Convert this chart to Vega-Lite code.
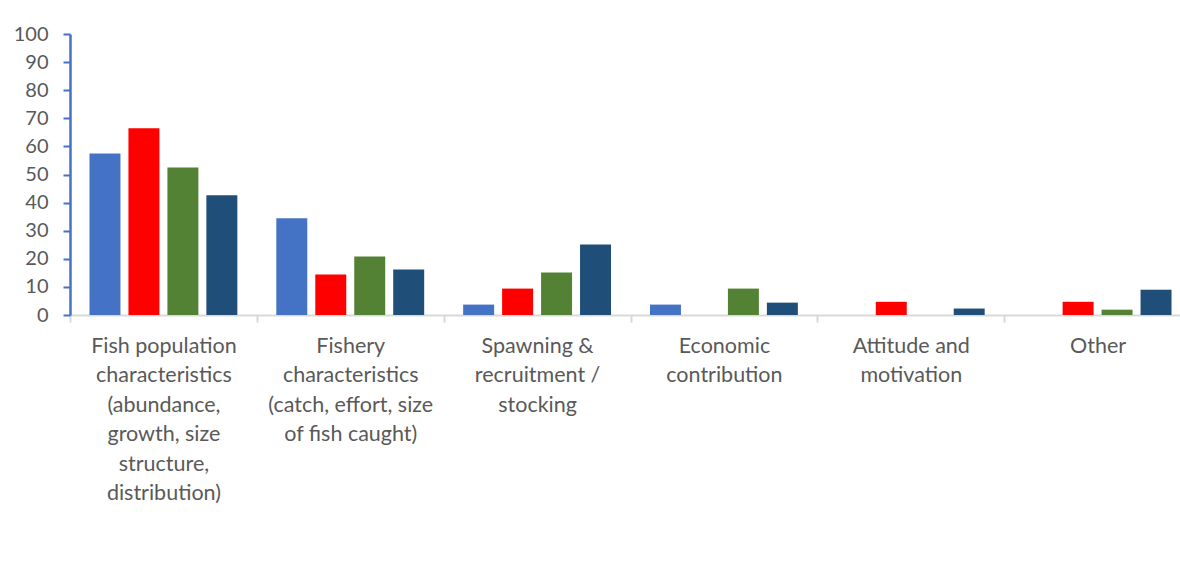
{
  "$schema": "https://vega.github.io/schema/vega-lite/v6.json",
  "autosize": {"type": "none"},
  "padding": {"left": 70, "top": 34, "right": 0, "bottom": 266},
  "width": 1110,
  "height": 281,
  "background": "white",
  "data": {
    "values": [
      {"cat": "Fish population|characteristics|(abundance,|growth, size|structure,|distribution)", "series": "S1", "value": 57.5},
      {"cat": "Fish population|characteristics|(abundance,|growth, size|structure,|distribution)", "series": "S2", "value": 66.5},
      {"cat": "Fish population|characteristics|(abundance,|growth, size|structure,|distribution)", "series": "S3", "value": 52.5},
      {"cat": "Fish population|characteristics|(abundance,|growth, size|structure,|distribution)", "series": "S4", "value": 42.6},
      {"cat": "Fishery|characteristics|(catch, effort, size|of fish caught)", "series": "S1", "value": 34.4},
      {"cat": "Fishery|characteristics|(catch, effort, size|of fish caught)", "series": "S2", "value": 14.4},
      {"cat": "Fishery|characteristics|(catch, effort, size|of fish caught)", "series": "S3", "value": 20.8},
      {"cat": "Fishery|characteristics|(catch, effort, size|of fish caught)", "series": "S4", "value": 16.2},
      {"cat": "Spawning &|recruitment /|stocking", "series": "S1", "value": 3.7},
      {"cat": "Spawning &|recruitment /|stocking", "series": "S2", "value": 9.4},
      {"cat": "Spawning &|recruitment /|stocking", "series": "S3", "value": 15.1},
      {"cat": "Spawning &|recruitment /|stocking", "series": "S4", "value": 25.1},
      {"cat": "Economic|contribution", "series": "S1", "value": 3.7},
      {"cat": "Economic|contribution", "series": "S2", "value": 0},
      {"cat": "Economic|contribution", "series": "S3", "value": 9.4},
      {"cat": "Economic|contribution", "series": "S4", "value": 4.4},
      {"cat": "Attitude and|motivation", "series": "S1", "value": 0},
      {"cat": "Attitude and|motivation", "series": "S2", "value": 4.7},
      {"cat": "Attitude and|motivation", "series": "S3", "value": 0},
      {"cat": "Attitude and|motivation", "series": "S4", "value": 2.3},
      {"cat": "Other", "series": "S1", "value": 0},
      {"cat": "Other", "series": "S2", "value": 4.7},
      {"cat": "Other", "series": "S3", "value": 1.9},
      {"cat": "Other", "series": "S4", "value": 9.0}
    ]
  },
  "mark": {"type": "bar", "cornerRadius": 0},
  "encoding": {
    "x": {
      "field": "cat",
      "type": "nominal",
      "sort": null,
      "scale": {"paddingInner": 0, "paddingOuter": 0, "range": [0, 1121]},
      "axis": {
        "title": null,
        "labelAngle": 0,
        "labelExpr": "split(datum.label, '|')",
        "labelFont": "Lato",
        "labelFontSize": 21.5,
        "labelColor": "#595959",
        "labelLineHeight": 29.5,
        "labelPadding": 13,
        "labelLimit": 0,
        "domainColor": "#d9d9d9",
        "domainWidth": 2,
        "tickColor": "#d9d9d9",
        "tickWidth": 2,
        "tickSize": 7,
        "tickBand": "extent",
        "grid": false
      }
    },
    "xOffset": {
      "field": "series",
      "type": "nominal",
      "scale": {"paddingInner": 0.205, "paddingOuter": 0.5}
    },
    "y": {
      "field": "value",
      "type": "quantitative",
      "scale": {"domain": [0, 100], "nice": false},
      "axis": {
        "title": null,
        "values": [0, 10, 20, 30, 40, 50, 60, 70, 80, 90, 100],
        "grid": false,
        "labelFont": "Lato",
        "labelFontSize": 20,
        "labelColor": "#595959",
        "labelPadding": 15,
        "domainColor": "#4472c4",
        "domainWidth": 2.5,
        "tickColor": "#4472c4",
        "tickWidth": 2,
        "tickSize": 7
      }
    },
    "color": {
      "field": "series",
      "type": "nominal",
      "scale": {"domain": ["S1", "S2", "S3", "S4"], "range": ["#4472c4", "#ff0000", "#548235", "#1f4e79"]},
      "legend": null
    }
  },
  "config": {
    "view": {"stroke": null}
  }
}
